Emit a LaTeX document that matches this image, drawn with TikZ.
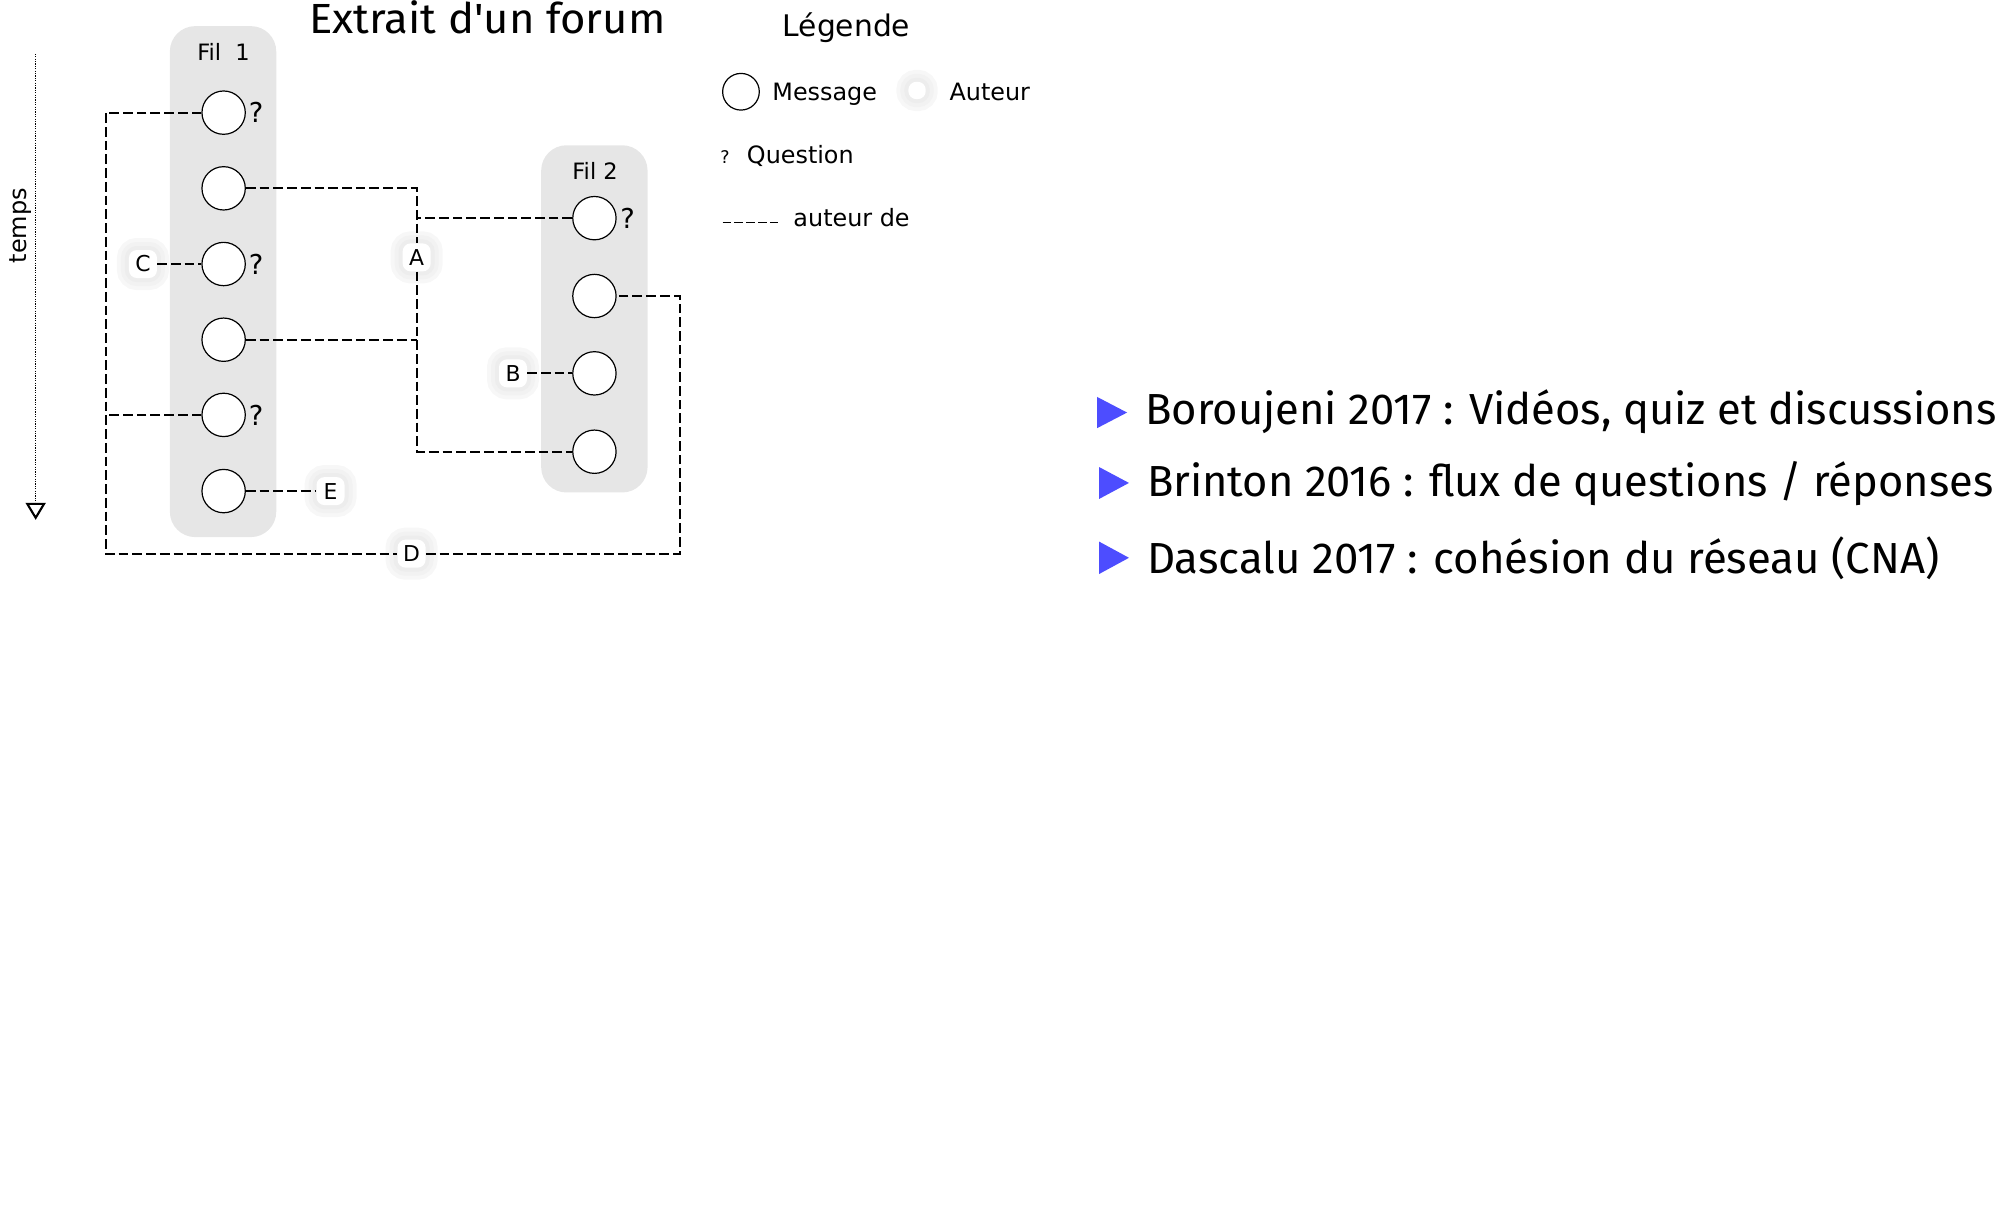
\documentclass[tikz,border=0pt]{standalone}
\usepackage{fontspec}
\setmainfont{DejaVu Sans}
\newfontfamily\ubu{Fira Sans}[Ligatures=TeXOff]
\usetikzlibrary{arrows.meta}
\definecolor{boxgray}{RGB}{230,230,230}
\definecolor{tri}{RGB}{77,77,255}
\begin{document}
\begin{tikzpicture}[x=0.9557pt,y=-0.9557pt,
  thread/.style={fill=boxgray, rounded corners=19pt},
  msg/.style={circle, draw, fill=white, line width=0.9pt, minimum size=32.5pt, inner sep=0pt},
  conn/.style={line width=1.45pt, dash pattern=on 7.3pt off 3pt},
  authorglow/.style={fill=white, inner sep=0pt, minimum size=21pt, rounded corners=6pt,
     preaction={draw=black!3, line width=18pt, rounded corners=9pt},
     preaction={draw=black!5, line width=12pt, rounded corners=8pt},
     preaction={draw=black!7, line width=6pt, rounded corners=7pt}},
  author/.style={authorglow, font=\fontsize{16.4}{18}\selectfont},
  qmark/.style={font=\fontsize{20.5}{22}\selectfont, inner sep=0pt},
  lab/.style={font=\fontsize{17.9}{20}\selectfont, inner sep=0pt, anchor=base west},
  filname/.style={font=\fontsize{16.9}{19}\selectfont, inner sep=0pt},
  bullettext/.style={anchor=base west, inner sep=0pt},
]
\path[use as bounding box] (0,0) rectangle (1568,952);

% threads
\fill[thread] (133.3,20.5) rectangle (216.8,421.5);
\fill[thread] (424.7,114) rectangle (508.2,386.5);
\node[filname] (fil1) at (175.4,40.7) {Fil\ \ 1};
\node[filname] (fil2) at (467,134) {Fil 2};

% messages thread 1
\node[msg] (m1) at (175.5,88.4) {};
\node[msg] (m2) at (175.5,147.8) {};
\node[msg] (m3) at (175.5,207.2) {};
\node[msg] (m4) at (175.5,266.6) {};
\node[msg] (m5) at (175.5,325.6) {};
\node[msg] (m6) at (175.5,385.4) {};
% messages thread 2
\node[msg] (f1) at (466.5,171.2) {};
\node[msg] (f2) at (466.5,232.3) {};
\node[msg] (f3) at (466.5,293) {};
\node[msg] (f4) at (466.5,354.5) {};

% question marks
\node[qmark] (q1) at (201,88.4) {?};
\node[qmark] (q3) at (201,207.2) {?};
\node[qmark] (q5) at (201,325.6) {?};
\node[qmark] (q6) at (492.5,171.2) {?};

% authors
\node[author] (C) at (112.2,207.2) {C};
\node[author] (A) at (327,202) {A};
\node[author] (B) at (402.6,293) {B};
\node[author] (E) at (259.4,385.4) {E};
\node[author] (D) at (323,434.5) {D};

% connectors
\coordinate (dl) at (83.1,434.5);
\coordinate (dr) at (533.5,232.3);
\draw[conn] (m1) -| (dl) -- (D);
\draw[conn] (m5) -- (m5 -| dl);
\draw[conn] (D) -| (dr) -- (f2);
\draw[conn] (m2) -| (A);
\draw[conn] (f1) -- (f1 -| A);
\draw[conn] (m4) -- (m4 -| A);
\draw[conn] (A) |- (f4);
\draw[conn] (C) -- (m3);
\draw[conn] (B) -- (f3);
\draw[conn] (m6) -- (E);

% time axis
\coordinate (t0) at (28,42.3);
\coordinate (t1) at (28,408);
\draw[line width=0.8pt, dash pattern=on 0.9pt off 0.9pt,
  -{Triangle[open,width=15pt,length=12.8pt,line width=1.6pt]}] (t0) -- (t1);
\node[rotate=90, font=\fontsize{18}{20}\selectfont, inner sep=0pt] (temps) at (15.8,177) {temps};

% title
\node[anchor=base west, inner sep=0pt] (title) at (242.5,26.5) {\resizebox{267.1pt}{\height}{\fontsize{31.6}{34}\selectfont\ubu Extrait d'un forum}};

% legend
\node[font=\fontsize{22.3}{24}\selectfont, anchor=base west, inner sep=0pt] (leg) at (614,28.8) {Légende};
\node[msg, minimum size=27.5pt] (lm) at (581.5,72) {};
\node[lab] (lmt) at (606,78.5) {Message};
\node[authorglow, minimum size=13pt] (la) at (719.7,71) {};
\node[lab] (lat) at (745,78.5) {Auteur};
\node[font=\fontsize{13.1}{14}\selectfont, anchor=base, inner sep=0pt] (lq) at (569,128) {?};
\node[lab] (lqt) at (586,128.2) {Question};
\coordinate (ld0) at (567,174.7);
\coordinate (ld1) at (611,174.7);
\draw[line width=1.1pt, dash pattern=on 6.3pt off 2.6pt] (ld0) -- (ld1);
\node[lab] (ldt) at (622.5,178) {auteur de};

% bullets
\fill[tri] (861,311.5) -- (861,336) -- (884.5,323.75) -- cycle;
\fill[tri] (862.5,366.5) -- (862.5,391.6) -- (886,379) -- cycle;
\fill[tri] (862.5,425) -- (862.5,450.5) -- (886,437.75) -- cycle;
\node[bullettext] (b1) at (898.6,333.5) {\resizebox{638.4pt}{\height}{\fontsize{32.6}{36}\selectfont\ubu Boroujeni 2017 : Vidéos, quiz et discussions}};
\node[bullettext] (b2) at (900,390) {\resizebox{634.6pt}{\height}{\fontsize{32.6}{36}\selectfont\ubu Brinton 2016 : flux de questions / réponses}};
\node[bullettext] (b3) at (900,449.7) {\resizebox{594.4pt}{\height}{\fontsize{32.6}{36}\selectfont\ubu Dascalu 2017 : cohésion du réseau (CNA)}};
\end{tikzpicture}
\end{document}
